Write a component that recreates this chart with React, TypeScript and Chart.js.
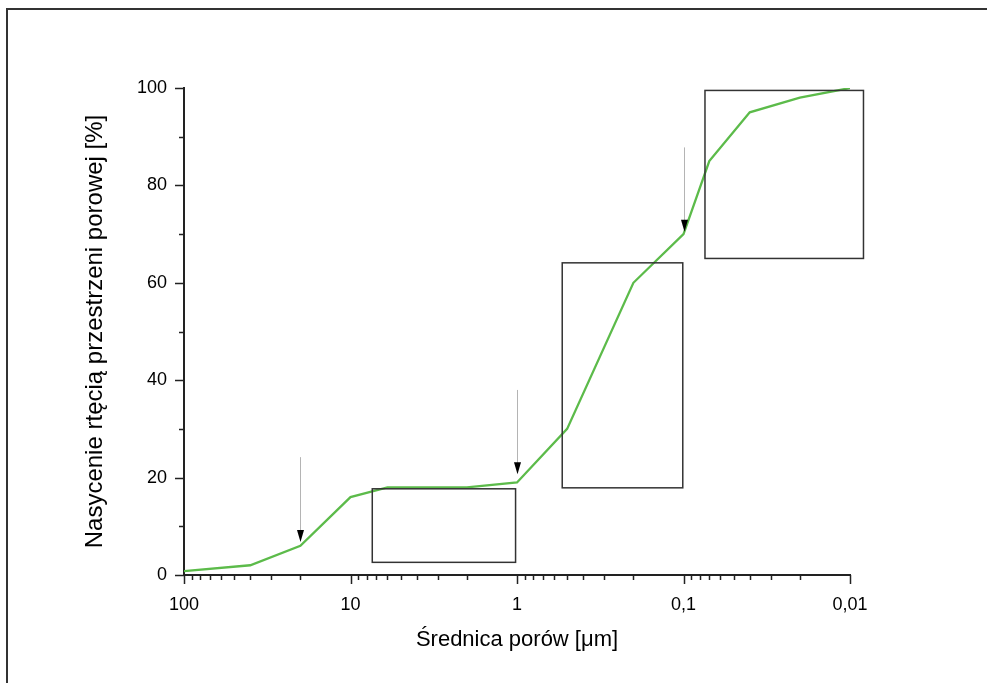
import React, { useEffect, useRef } from 'react';
import { Chart, registerables } from 'chart.js';

Chart.register(...registerables);

// Pore diameter [µm] and mercury saturation [%]
const poreDiameters = [100, 40, 20, 10, 6, 2, 1, 0.5, 0.2, 0.1, 0.07, 0.04, 0.02, 0.01];
const saturation = [0.8, 2, 6, 16, 18, 18, 19, 30, 60, 70, 85, 95, 98, 100];

const xMajorTicks = [100, 10, 1, 0.1, 0.01];
const xTickLabels = ['100', '10', '1', '0,1', '0,01'];
const xMinorMultipliers = [2, 3, 4, 5, 6, 7, 8, 9];
const xMinorDecades = [10, 1, 0.1, 0.01];
const yMajorTicks = [0, 20, 40, 60, 80, 100];
const yMinorTicks = [10, 30, 50, 70, 90];

// Rectangles marking ranges
const boxXFrom = [7.4, 0.535, 0.0743];
const boxXTo = [1.02, 0.101, 0.0083];
const boxYLow = [2.6, 17.9, 65.0];
const boxYHigh = [17.7, 64.1, 99.5];

// Arrows
const arrowX = [20, 1, 0.1];
const arrowYTop = [24.2, 38, 87.8];
const arrowYTip = [6.8, 20.7, 70.5];

const xTitle = 'Średnica porów [μm]';
const yTitle = 'Nasycenie rtęcią przestrzeni porowej [%]';

const FONT = "Arial, 'Liberation Sans', sans-serif";

const decoPlugin = {
  id: 'deco',
  afterDatasetsDraw(chart: any) {
    const { ctx, chartArea, scales } = chart;
    const x = scales.x;
    const y = scales.y;
    ctx.save();
    // ticks
    ctx.strokeStyle = '#222';
    ctx.lineWidth = 1.5;
    ctx.beginPath();
    xMajorTicks.forEach((v) => {
      const px = Math.round(x.getPixelForValue(v)) + 0.5;
      ctx.moveTo(px, chartArea.bottom);
      ctx.lineTo(px, chartArea.bottom + 9);
    });
    xMinorDecades.forEach((d) => {
      xMinorMultipliers.forEach((m) => {
        const px = Math.round(x.getPixelForValue(d * m)) + 0.5;
        ctx.moveTo(px, chartArea.bottom);
        ctx.lineTo(px, chartArea.bottom + 5);
      });
    });
    yMajorTicks.forEach((v) => {
      const py = Math.round(y.getPixelForValue(v)) + 0.5;
      ctx.moveTo(chartArea.left, py);
      ctx.lineTo(chartArea.left - 9, py);
    });
    yMinorTicks.forEach((v) => {
      const py = Math.round(y.getPixelForValue(v)) + 0.5;
      ctx.moveTo(chartArea.left, py);
      ctx.lineTo(chartArea.left - 5, py);
    });
    ctx.stroke();

    // boxes
    ctx.strokeStyle = '#333';
    ctx.lineWidth = 1.5;
    for (let i = 0; i < boxXFrom.length; i++) {
      const x1 = x.getPixelForValue(boxXFrom[i]);
      const x2 = x.getPixelForValue(boxXTo[i]);
      const y1 = y.getPixelForValue(boxYHigh[i]);
      const y2 = y.getPixelForValue(boxYLow[i]);
      ctx.strokeRect(x1, y1, x2 - x1, y2 - y1);
    }

    // arrows
    for (let i = 0; i < arrowX.length; i++) {
      const px = Math.round(x.getPixelForValue(arrowX[i])) + 0.5;
      const top = y.getPixelForValue(arrowYTop[i]);
      const tip = y.getPixelForValue(arrowYTip[i]);
      ctx.strokeStyle = '#b4b4b4';
      ctx.lineWidth = 1;
      ctx.beginPath();
      ctx.moveTo(px, top);
      ctx.lineTo(px, tip - 10);
      ctx.stroke();
      ctx.fillStyle = '#000';
      ctx.beginPath();
      ctx.moveTo(px, tip);
      ctx.lineTo(px - 3.5, tip - 12);
      ctx.lineTo(px + 3.5, tip - 12);
      ctx.closePath();
      ctx.fill();
    }
    ctx.restore();
  },
};

export default function App() {
  const canvasRef = useRef<HTMLCanvasElement | null>(null);

  useEffect(() => {
    if (!canvasRef.current) return;
    const chart = new Chart(canvasRef.current, {
      type: 'line',
      data: {
        datasets: [
          {
            data: poreDiameters.map((d, i) => ({ x: d, y: saturation[i] })),
            borderColor: '#5cbb4a',
            borderWidth: 2.3,
            pointRadius: 0,
            fill: false,
            tension: 0,
          },
        ],
      },
      options: {
        animation: false,
        responsive: false,
        events: [],
        layout: { padding: { left: 0, top: 88, right: 137, bottom: 0 } },
        plugins: { legend: { display: false }, tooltip: { enabled: false } },
        scales: {
          x: {
            type: 'logarithmic',
            min: 0.01,
            max: 100,
            reverse: true,
            afterBuildTicks: (s: any) => {
              s.ticks = xMajorTicks.map((v) => ({ value: v }));
            },
            afterFit: (s: any) => {
              s.height = 108;
            },
            grid: { display: false, drawTicks: false },
            border: { display: true, color: '#222', width: 2 },
            ticks: {
              autoSkip: false,
              maxRotation: 0,
              padding: 19,
              color: '#000',
              font: { family: FONT, size: 18 },
              callback: (v: any, i: number) => xTickLabels[i],
            },
            title: {
              display: true,
              text: xTitle,
              color: '#000',
              font: { family: FONT, size: 22 },
              padding: { top: 0, bottom: 30 },
            },
          },
          y: {
            type: 'linear',
            min: 0,
            max: 100,
            afterBuildTicks: (s: any) => {
              s.ticks = yMajorTicks.map((v) => ({ value: v }));
            },
            afterFit: (s: any) => {
              s.width = 184;
            },
            grid: { display: false, drawTicks: false },
            border: { display: true, color: '#222', width: 2 },
            ticks: {
              padding: 17,
              color: '#000',
              font: { family: FONT, size: 18 },
              callback: (v: any) => String(v),
            },
            title: {
              display: true,
              text: yTitle,
              color: '#000',
              font: { family: FONT, size: 24 },
              padding: { top: 81, bottom: 0 },
            },
          },
        },
      },
      plugins: [decoPlugin],
    });
    return () => chart.destroy();
  }, []);

  return (
    <div style={{ position: 'fixed', left: 0, top: 0, width: 987, height: 683, background: '#fff', overflow: 'hidden' }}>
      <div
        style={{
          position: 'absolute',
          left: 6,
          top: 8,
          width: 2000,
          height: 2000,
          borderTop: '2px solid #333',
          borderLeft: '2px solid #333',
        }}
      />
      <canvas ref={canvasRef} width={987} height={683} style={{ position: 'absolute', left: 0, top: 0 }} />
    </div>
  );
}
